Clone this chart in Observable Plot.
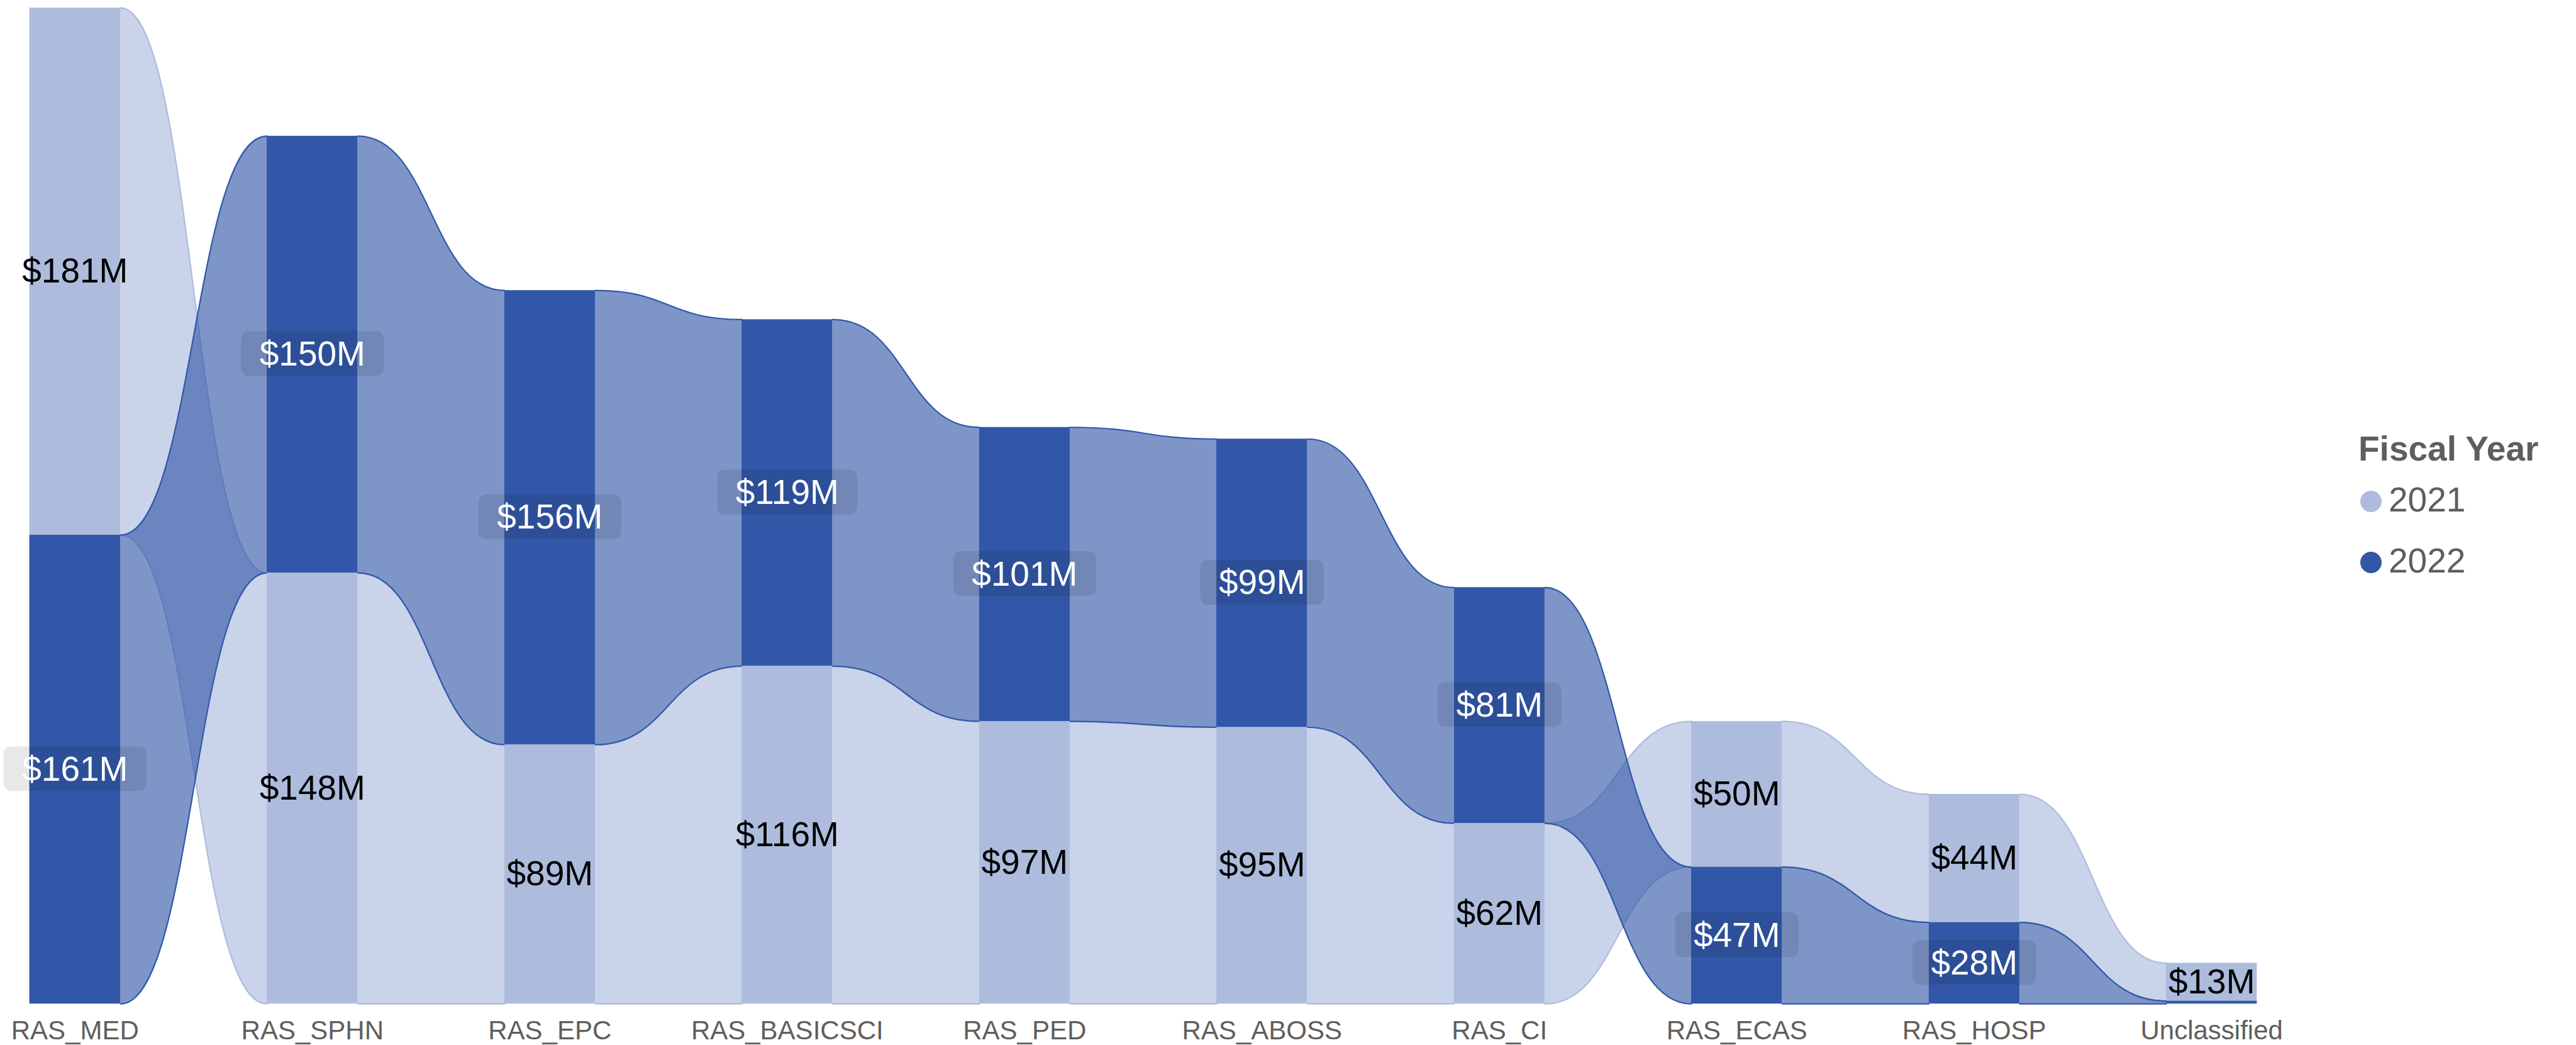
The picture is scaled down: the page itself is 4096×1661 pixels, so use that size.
<!DOCTYPE html>
<html>
<head>
<meta charset="utf-8">
<script src="https://cdn.jsdelivr.net/npm/d3@7"></script>
<script src="https://cdn.jsdelivr.net/npm/@observablehq/plot@0.6"></script>
<style>
  html, body { margin: 0; padding: 0; background: #fff; }
  #wrap { position: relative; width: 4096px; height: 1661px; font-family: "Liberation Sans", Arial, sans-serif; }
  #legend { position: absolute; left: 3730px; top: 650px; }
</style>
</head>
<body>
<div id="wrap"></div>
<script>
// ---------- data ----------
const categories = ["RAS_MED", "RAS_SPHN", "RAS_EPC", "RAS_BASICSCI", "RAS_PED", "RAS_ABOSS", "RAS_CI", "RAS_ECAS", "RAS_HOSP", "Unclassified"];
const fy2021 = [181, 148, 89, 116, 97, 95, 62, 50, 44, 13];
const fy2022 = [161, 150, 156, 119, 101, 99, 81, 47, 28, 1];
const labels2021 = ["$181M", "$148M", "$89M", "$116M", "$97M", "$95M", "$62M", "$50M", "$44M", "$13M"];
const labels2022 = ["$161M", "$150M", "$156M", "$119M", "$101M", "$99M", "$81M", "$47M", "$28M", null];
const seriesNames = ["2021", "2022"];
const legendTitle = "Fiscal Year";
const barColors = { "2021": "#ADBCDD", "2022": "#3257A8" };

// ---------- layout ----------
const W = 4096, H = 1661;
const n = categories.length;
const halfBar = 0.1913; // half bar width, in category-step units

// ---------- stacking (largest value on top, per category) ----------
const series = [
  { name: "2021", values: fy2021, labels: labels2021 },
  { name: "2022", values: fy2022, labels: labels2022 }
];
const segs = {};
series.forEach(s => segs[s.name] = []);
categories.forEach((c, i) => {
  const order = series.map(s => ({ s, v: s.values[i] })).sort((a, b) => a.v - b.v);
  let base = 0;
  for (const o of order) {
    segs[o.s.name][i] = { series: o.s.name, i, y1: base, y2: base + o.v, label: o.s.labels[i] };
    base += o.v;
  }
});
const yMax = d3.max(categories.map((c, i) => fy2021[i] + fy2022[i]));

function ribbons(name) {
  const out = [];
  const sg = segs[name];
  for (let i = 0; i < n - 1; i++) {
    out.push({ x: i + halfBar, y1: sg[i].y1, y2: sg[i].y2, z: i });
    out.push({ x: i + 1 - halfBar, y1: sg[i + 1].y1, y2: sg[i + 1].y2, z: i });
  }
  return out;
}
const rib21 = ribbons("2021");
const rib22 = ribbons("2022");
const seg21 = segs["2021"];
const seg22 = segs["2022"];

const FONT = "'Liberation Sans', Arial, sans-serif";

const plot = Plot.plot({
  width: W,
  height: H,
  marginLeft: 118.8,
  marginRight: W - 3516.2,
  marginTop: 12.2,
  marginBottom: H - 1595.2,
  style: { fontFamily: FONT, background: "transparent", overflow: "visible" },
  x: { domain: [0, n - 1], axis: null },
  y: { domain: [0, yMax], axis: null },
  marks: [
    // 2021 ribbons
    Plot.area(rib21, { x1: "x", y1: "y1", y2: "y2", z: "z", curve: "bump-x", fill: barColors["2021"], fillOpacity: 0.66 }),
    Plot.line(rib21, { x: "x", y: "y2", z: "z", curve: "bump-x", stroke: barColors["2021"], strokeWidth: 2.2 }),
    Plot.line(rib21, { x: "x", y: "y1", z: "z", curve: "bump-x", stroke: barColors["2021"], strokeWidth: 2.2 }),
    // 2022 ribbons
    Plot.area(rib22, { x1: "x", y1: "y1", y2: "y2", z: "z", curve: "bump-x", fill: barColors["2022"], fillOpacity: 0.63 }),
    Plot.line(rib22, { x: "x", y: "y2", z: "z", curve: "bump-x", stroke: barColors["2022"], strokeWidth: 2.2 }),
    Plot.line(rib22, { x: "x", y: "y1", z: "z", curve: "bump-x", stroke: barColors["2022"], strokeWidth: 2.2 }),
    // bars
    Plot.rect(seg21, { x1: d => d.i - halfBar, x2: d => d.i + halfBar, y1: "y1", y2: "y2", fill: barColors["2021"] }),
    Plot.rect(seg22, { x1: d => d.i - halfBar, x2: d => d.i + halfBar, y1: "y1", y2: "y2", fill: barColors["2022"] }),
    // category axis
    Plot.axisX({ anchor: "bottom", ticks: d3.range(n), tickSize: 0, tickPadding: 26, tickFormat: i => categories[i], fontSize: 42, fill: "#605E5C", label: null }),
    // data labels
    Plot.text(seg21.filter(d => d.label), { x: "i", y: d => (d.y1 + d.y2) / 2, text: "label", fill: "black", fontSize: 55, lineAnchor: "middle" }),
    Plot.text(seg22.filter(d => d.label), { x: "i", y: d => (d.y1 + d.y2) / 2, text: "label", fill: "white", fontSize: 55, lineAnchor: "middle" })
  ]
});

const wrap = document.getElementById("wrap");
wrap.appendChild(plot);

// rounded background boxes behind the 2022 (white) labels
const textGroups = Array.from(plot.querySelectorAll('g[aria-label="text"]'));
const whiteG = textGroups.find(g => (g.getAttribute("fill") || "").toLowerCase() === "white");
if (whiteG) {
  const ns = "http://www.w3.org/2000/svg";
  whiteG.querySelectorAll("text").forEach(t => {
    const b = t.getBBox();
    const r = document.createElementNS(ns, "rect");
    const bw = b.width + 59, bh = 71;
    r.setAttribute("x", b.x + b.width / 2 - bw / 2);
    r.setAttribute("y", b.y + b.height / 2 - bh / 2);
    r.setAttribute("width", bw);
    r.setAttribute("height", bh);
    r.setAttribute("rx", 12);
    r.setAttribute("fill", "rgba(0,0,0,0.09)");
    const tr = t.getAttribute("transform");
    if (tr) r.setAttribute("transform", tr);
    t.parentNode.insertBefore(r, t);
  });
}

// legend
const leg = d3.select(wrap).append("svg")
  .attr("id", "legend")
  .attr("width", 360).attr("height", 300)
  .style("font-family", FONT);
leg.append("text").attr("x", 20).attr("y", 82)
  .attr("font-size", 55).attr("font-weight", "bold").attr("fill", "#605E5C")
  .text(legendTitle);
seriesNames.forEach((s, k) => {
  const cy = 147 + k * 97;
  leg.append("circle").attr("cx", 40).attr("cy", cy).attr("r", 17).attr("fill", barColors[s]);
  leg.append("text").attr("x", 68).attr("y", cy + 15.5)
    .attr("font-size", 55).attr("fill", "#605E5C").text(s);
});
</script>
</body>
</html>
